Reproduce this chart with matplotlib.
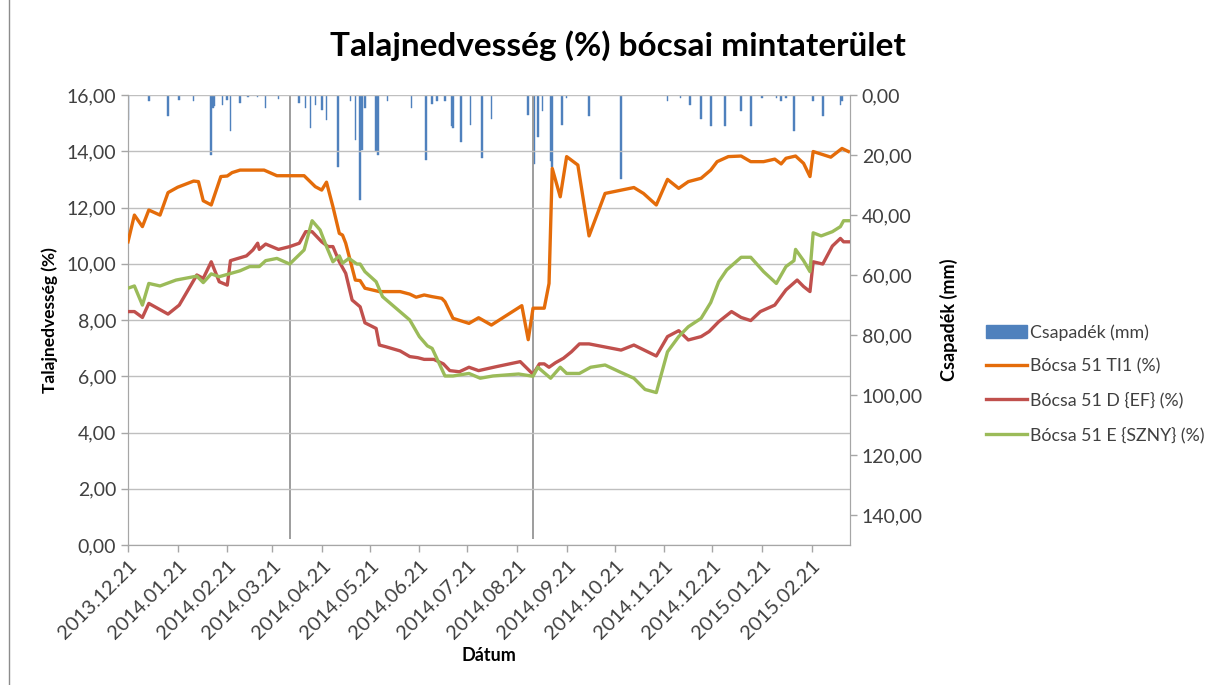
import pandas as pd
import matplotlib
matplotlib.use("Agg")
import matplotlib.pyplot as plt
import matplotlib.dates as mdates
import matplotlib.ticker as mticker
from matplotlib.patches import Patch
from matplotlib.lines import Line2D

plt.rcParams['font.family'] = ['Lato', 'DejaVu Sans']

# csapadek (mm)
rain_dates = ["2013-12-21", "2014-01-03", "2014-01-15", "2014-01-22", "2014-01-31",
              "2014-02-11", "2014-02-12", "2014-02-13", "2014-02-18", "2014-02-21",
              "2014-02-23", "2014-03-01", "2014-03-06", "2014-03-12", "2014-03-17",
              "2014-03-25", "2014-04-07", "2014-04-11", "2014-04-14", "2014-04-17",
              "2014-04-21", "2014-04-24", "2014-05-01", "2014-05-09", "2014-05-12",
              "2014-05-15", "2014-05-16", "2014-05-18", "2014-05-25", "2014-05-26",
              "2014-06-01", "2014-06-16", "2014-06-25", "2014-06-29", "2014-07-02",
              "2014-07-07", "2014-07-11", "2014-07-12", "2014-07-17", "2014-07-23",
              "2014-07-30", "2014-08-05", "2014-08-28", "2014-09-01", "2014-09-03",
              "2014-09-06", "2014-09-11", "2014-09-12", "2014-09-18", "2014-09-21",
              "2014-10-05", "2014-10-25", "2014-11-23", "2014-12-01", "2014-12-07",
              "2014-12-14", "2014-12-20", "2014-12-29", "2015-01-08", "2015-01-14",
              "2015-01-21", "2015-01-30", "2015-02-02", "2015-02-05", "2015-02-10",
              "2015-02-22", "2015-02-28", "2015-03-11", "2015-03-12"]
rain_mm = [8.2, 2.1, 7.1, 1.6, 1.9,
           19.9, 4.3, 3.8, 3.2, 1.6,
           12.1, 2.7, 0.8, 0.8, 4.3,
           1.2, 2.7, 4.3, 11.0, 3.2,
           4.9, 8.2, 24.1, 1.9, 14.9,
           34.9, 18.2, 4.3, 18.8, 19.9,
           1.9, 4.3, 21.8, 3.0, 1.9,
           1.9, 10.4, 11.0, 15.7, 10.1,
           21.0, 7.9, 6.8, 23.0, 14.1,
           5.2, 21.9, 24.1, 10.1, 1.0,
           7.1, 27.9, 2.1, 1.0, 3.2,
           7.9, 10.4, 10.4, 5.2, 10.4,
           1.0, 1.0, 2.1, 1.0, 12.1,
           2.1, 7.1, 3.2, 2.1]

# Bócsa 51 TI1
ti1_dates = ["2013-12-21", "2013-12-25", "2013-12-30", "2014-01-03", "2014-01-10",
             "2014-01-15", "2014-01-21", "2014-01-31", "2014-02-03", "2014-02-06",
             "2014-02-11", "2014-02-17", "2014-02-21", "2014-02-24", "2014-03-01",
             "2014-03-16", "2014-03-24", "2014-04-10", "2014-04-17", "2014-04-21",
             "2014-04-24", "2014-04-28", "2014-05-02", "2014-05-04", "2014-05-06",
             "2014-05-12", "2014-05-15", "2014-05-18", "2014-05-27", "2014-06-09",
             "2014-06-15", "2014-06-19", "2014-06-24", "2014-06-29", "2014-07-05",
             "2014-07-07", "2014-07-12", "2014-07-22", "2014-07-28", "2014-08-05",
             "2014-08-24", "2014-08-28", "2014-08-31", "2014-09-07", "2014-09-10",
             "2014-09-12", "2014-09-17", "2014-09-21", "2014-09-28", "2014-10-05",
             "2014-10-15", "2014-11-02", "2014-11-08", "2014-11-16", "2014-11-23",
             "2014-11-30", "2014-12-06", "2014-12-14", "2014-12-20", "2014-12-24",
             "2014-12-31", "2015-01-08", "2015-01-14", "2015-01-22", "2015-01-29",
             "2015-02-02", "2015-02-05", "2015-02-11", "2015-02-16", "2015-02-20",
             "2015-02-22", "2015-03-05", "2015-03-12", "2015-03-16"]
ti1 = [10.78, 11.73, 11.32, 11.91, 11.73,
       12.53, 12.72, 12.94, 12.92, 12.24,
       12.09, 13.10, 13.12, 13.24, 13.33,
       13.33, 13.13, 13.13, 12.74, 12.62,
       12.90, 12.03, 11.08, 11.02, 10.73,
       9.42, 9.40, 9.13, 9.01, 9.01,
       8.92, 8.81, 8.89, 8.83, 8.77,
       8.65, 8.06, 7.88, 8.08, 7.82,
       8.51, 7.30, 8.42, 8.42, 9.30,
       13.39, 12.38, 13.81, 13.51, 10.99,
       12.50, 12.71, 12.50, 12.09, 13.00,
       12.68, 12.92, 13.04, 13.33, 13.63,
       13.81, 13.83, 13.63, 13.63, 13.72,
       13.55, 13.75, 13.83, 13.57, 13.10,
       13.99, 13.79, 14.10, 13.99]

# Bócsa 51 D {EF}
d_dates = ["2013-12-21", "2013-12-25", "2013-12-30", "2014-01-03", "2014-01-15",
           "2014-01-22", "2014-02-02", "2014-02-06", "2014-02-11", "2014-02-16",
           "2014-02-21", "2014-02-23", "2014-03-05", "2014-03-09", "2014-03-12",
           "2014-03-13", "2014-03-17", "2014-03-25", "2014-04-01", "2014-04-07",
           "2014-04-11", "2014-04-15", "2014-04-21", "2014-04-25", "2014-04-28",
           "2014-05-02", "2014-05-06", "2014-05-10", "2014-05-15", "2014-05-18",
           "2014-05-25", "2014-05-27", "2014-05-31", "2014-06-09", "2014-06-15",
           "2014-06-20", "2014-06-24", "2014-06-30", "2014-07-06", "2014-07-10",
           "2014-07-16", "2014-07-22", "2014-07-28", "2014-08-08", "2014-08-23",
           "2014-08-31", "2014-09-04", "2014-09-07", "2014-09-10", "2014-09-14",
           "2014-09-19", "2014-09-24", "2014-09-29", "2014-10-05", "2014-10-25",
           "2014-11-02", "2014-11-16", "2014-11-23", "2014-11-30", "2014-12-06",
           "2014-12-14", "2014-12-19", "2014-12-25", "2015-01-02", "2015-01-08",
           "2015-01-14", "2015-01-20", "2015-01-29", "2015-02-05", "2015-02-12",
           "2015-02-16", "2015-02-20", "2015-02-22", "2015-02-28", "2015-03-06",
           "2015-03-11", "2015-03-13", "2015-03-16"]
d_ef = [8.30, 8.30, 8.09, 8.59, 8.21,
        8.53, 9.60, 9.48, 10.07, 9.36,
        9.24, 10.11, 10.28, 10.49, 10.73,
        10.51, 10.70, 10.51, 10.61, 10.73,
        11.14, 11.14, 10.78, 10.61, 10.61,
        10.07, 9.66, 8.71, 8.47, 7.90,
        7.70, 7.11, 7.05, 6.90, 6.70,
        6.66, 6.60, 6.60, 6.44, 6.20,
        6.16, 6.32, 6.20, 6.34, 6.52,
        6.07, 6.44, 6.44, 6.32, 6.48,
        6.64, 6.87, 7.15, 7.15, 6.93,
        7.11, 6.72, 7.41, 7.62, 7.29,
        7.41, 7.59, 7.94, 8.30, 8.09,
        7.98, 8.30, 8.53, 9.07, 9.42,
        9.19, 9.01, 10.07, 9.99, 10.63,
        10.90, 10.78, 10.78]

# Bócsa 51 E {SZNY}
e_dates = ["2013-12-21", "2013-12-25", "2013-12-30", "2014-01-03", "2014-01-10",
           "2014-01-20", "2014-02-02", "2014-02-06", "2014-02-11", "2014-02-16",
           "2014-03-01", "2014-03-07", "2014-03-13", "2014-03-17", "2014-03-24",
           "2014-04-01", "2014-04-10", "2014-04-15", "2014-04-20", "2014-04-24",
           "2014-04-28", "2014-05-02", "2014-05-04", "2014-05-08", "2014-05-13",
           "2014-05-15", "2014-05-18", "2014-05-25", "2014-05-29", "2014-06-15",
           "2014-06-21", "2014-06-26", "2014-06-29", "2014-07-07", "2014-07-12",
           "2014-07-22", "2014-07-29", "2014-08-06", "2014-08-22", "2014-08-31",
           "2014-09-03", "2014-09-11", "2014-09-17", "2014-09-21", "2014-09-29",
           "2014-10-06", "2014-10-15", "2014-10-24", "2014-11-02", "2014-11-09",
           "2014-11-16", "2014-11-23", "2014-11-30", "2014-12-06", "2014-12-14",
           "2014-12-20", "2014-12-25", "2014-12-30", "2015-01-08", "2015-01-14",
           "2015-01-22", "2015-01-30", "2015-02-05", "2015-02-10", "2015-02-11",
           "2015-02-16", "2015-02-20", "2015-02-22", "2015-02-27", "2015-03-06",
           "2015-03-11", "2015-03-13", "2015-03-16"]
e_szny = [9.13, 9.21, 8.53, 9.30, 9.21,
          9.42, 9.56, 9.33, 9.64, 9.54,
          9.75, 9.90, 9.90, 10.11, 10.19,
          9.99, 10.49, 11.53, 11.20, 10.61,
          10.07, 10.28, 10.02, 10.19, 9.99,
          9.99, 9.72, 9.36, 8.83, 8.00,
          7.41, 7.08, 6.99, 6.01, 6.01,
          6.10, 5.93, 6.01, 6.08, 6.00,
          6.32, 5.93, 6.32, 6.10, 6.10,
          6.32, 6.40, 6.16, 5.93, 5.53,
          5.42, 6.87, 7.41, 7.76, 8.06,
          8.62, 9.36, 9.78, 10.23, 10.23,
          9.72, 9.30, 9.90, 10.11, 10.51,
          10.11, 9.72, 11.10, 10.99, 11.14,
          11.32, 11.53, 11.53]

# szurke fuggoleges vonalak
marker_dates = ["2014-04-01", "2014-08-31"]

rain_x = pd.to_datetime(rain_dates)
ti1_x = pd.to_datetime(ti1_dates)
d_x = pd.to_datetime(d_dates)
e_x = pd.to_datetime(e_dates)

W, H = 1219, 685
fig = plt.figure(figsize=(W / 100, H / 100), dpi=100)
# diagram keret bal szele
fig.add_artist(Line2D([8.5 / W, 8.5 / W], [0, 1], transform=fig.transFigure,
                      color='#8c8c8c', linewidth=1.0))
ax = fig.add_axes([128 / W, 1 - 545 / H, 722 / W, 450 / H])
ax2 = ax.twinx()

gray = '#a6a6a6'
txt = '#404040'
tick_fs = 14

# csapadek oszlopok (forditott masodlagos tengely)
ax2.bar(rain_x, rain_mm, width=1.0, color='#4f81bd', edgecolor='#4f81bd', linewidth=0.3, zorder=2)
ax2.vlines(pd.to_datetime(marker_dates), 0, 148, color='#8c8c8c', linewidth=1.2, zorder=2)
ax2.set_ylim(150, 0)
ax2.set_yticks(range(0, 141, 20))
ax2.yaxis.set_major_formatter(mticker.FuncFormatter(lambda v, p: f"{v:.2f}".replace('.', ',')))
ax2.set_ylabel("Csapadék (mm)", fontsize=13, fontweight='bold', color='black', labelpad=12)

ax.set_zorder(ax2.get_zorder() + 1)
ax.patch.set_visible(False)

ax.plot(ti1_x, ti1, color='#e46c0a', linewidth=2.4, label='Bócsa 51 TI1 (%)', zorder=3)
ax.plot(d_x, d_ef, color='#c0504d', linewidth=2.4, label='Bócsa 51 D {EF} (%)', zorder=3)
ax.plot(e_x, e_szny, color='#9bbb59', linewidth=2.4, label='Bócsa 51 E {SZNY} (%)', zorder=3)

ax.set_ylim(0, 16)
ax.set_yticks(range(0, 17, 2))
ax.yaxis.set_major_formatter(mticker.FuncFormatter(lambda v, p: f"{v:.2f}".replace('.', ',')))
ax.grid(axis='y', color='#bfbfbf', linewidth=1.0)
ax.set_axisbelow(True)
ax.set_ylabel("Talajnedvesség (%)", fontsize=12.5, fontweight='bold', color='black', labelpad=6)

ax.set_xlim(pd.Timestamp("2013-12-21"), pd.Timestamp("2015-03-17"))
ax.set_xticks(pd.date_range("2013-12-21", periods=15, freq=pd.DateOffset(months=1)))
ax.xaxis.set_major_formatter(mdates.DateFormatter('%Y.%m.%d'))
ax.set_xlabel("Dátum", fontsize=13, fontweight='bold', color='black', labelpad=4)

for a in (ax, ax2):
    a.tick_params(axis='both', labelsize=tick_fs, colors=gray, labelcolor=txt, length=5, width=1)
    for s in a.spines.values():
        s.set_color(gray)
    a.spines['top'].set_visible(False)
for lbl in ax.get_xticklabels():
    lbl.set_rotation(45)
    lbl.set_ha('right')
    lbl.set_rotation_mode('anchor')
    lbl.set_fontsize(14.5)

fig.suptitle("Talajnedvesség (%) bócsai mintaterület", x=618 / W, y=1 - 30 / H,
             fontsize=24, fontweight='bold', va='top')

handles = [Patch(facecolor='#4f81bd', edgecolor='#4f81bd'),
           Line2D([], [], color='#e46c0a', linewidth=2.4),
           Line2D([], [], color='#c0504d', linewidth=2.4),
           Line2D([], [], color='#9bbb59', linewidth=2.4)]
labels = ['Csapadék (mm)', 'Bócsa 51 TI1 (%)', 'Bócsa 51 D {EF} (%)', 'Bócsa 51 E {SZNY} (%)']
fig.legend(handles, labels, loc='upper left', bbox_to_anchor=(970 / W, 1 - 308 / H),
           frameon=False, fontsize=12.8, handlelength=2.3, handleheight=0.8,
           labelspacing=1.0, handletextpad=0.15, labelcolor=txt)

fig.savefig("out.png", dpi=100)
